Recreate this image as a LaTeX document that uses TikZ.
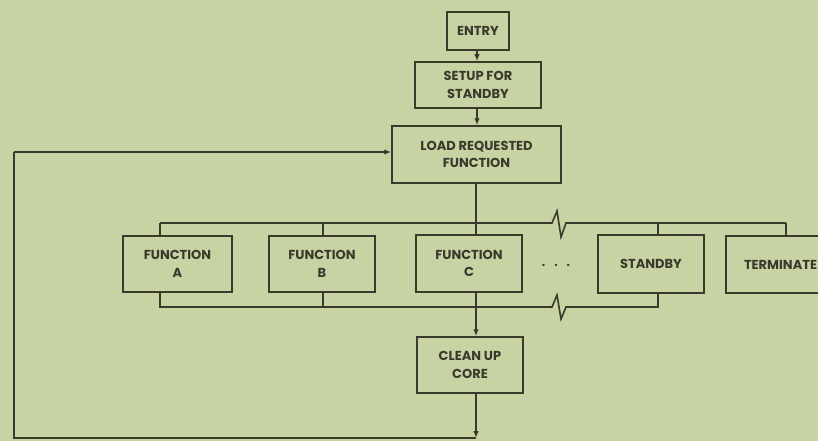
\documentclass[tikz,border=0pt]{standalone}
\usepackage{fontspec}
\setmainfont{Poppins}
\usetikzlibrary{arrows.meta}
\definecolor{bg}{HTML}{C8D3A4}
\definecolor{ink}{HTML}{3A3A2C}
\tikzset{
  box/.style={draw=ink, line width=1.5pt, inner sep=0pt, align=center, text=ink,
    font=\fontsize{13}{17.5}\selectfont\bfseries},
  link/.style={draw=ink, line width=1.6pt},
  arr/.style={link, -{Latex[length=7pt,width=5.5pt]}}
}
\begin{document}
\begin{tikzpicture}[x=1pt,y=-1pt]
\fill[bg] (0,0) rectangle (818,441);
\useasboundingbox (0,0) rectangle (818,441);
\clip (0,0) rectangle (818,441);
% boxes
\node[box, minimum width=62pt, minimum height=38pt] (entry) at (478,31) {ENTRY};
\node[box, minimum width=126pt, minimum height=46pt] (setup) at (478,85) {SETUP FOR\\STANDBY};
\node[box, minimum width=169pt, minimum height=57pt] (load) at (476.5,154.5) {LOAD REQUESTED\\FUNCTION};
\node[box, minimum width=109pt, minimum height=56pt] (fa) at (177.5,264) {FUNCTION\\A};
\node[box, minimum width=106pt, minimum height=56pt] (fb) at (322,264) {FUNCTION\\B};
\node[box, minimum width=106pt, minimum height=57pt] (fc) at (469,263.5) {FUNCTION\\C};
\node[box, minimum width=106pt, minimum height=58pt] (sb) at (651,264) {STANDBY};
\node[box, minimum width=106pt, minimum height=57pt, text width=70pt, align=left] (term) at (779,264.5) {TERMINATE};
\node[box, minimum width=106pt, minimum height=56pt] (clean) at (470,365) {CLEAN UP\\CORE};
\node[text=ink, font=\fontsize{12}{12}\selectfont\bfseries] (dots) at (556,265) {.\hspace{9pt}.\hspace{9pt}.};
% bus coordinates
\coordinate (tA) at (160,223);
\coordinate (tB) at (323,223);
\coordinate (tC) at (476,223);
\coordinate (tS) at (658,223);
\coordinate (tT) at (786,223);
\coordinate (bA) at (160,307);
\coordinate (bB) at (323,307);
\coordinate (bC) at (476,307);
\coordinate (bS) at (658,307);
\coordinate (ret) at (476,438);
\coordinate (lb) at (14,438);
\coordinate (lt) at (14,152);
% main flow
\draw[arr] (entry.south -| 477,0) -- (setup.north -| 477,0);
\draw[arr] (setup.south -| 477,0) -- (load.north -| 477,0);
\draw[link] (load.south -| tC) -- (tC);
% top bus
\draw[link] (tA) -- (552,223) -- (557,211) -- (561,237) -- (566,223) -- (tT);
\draw[link] (tA) -- (fa.north -| tA);
\draw[link] (tB) -- (fb.north -| tB);
\draw[link] (tC) -- (fc.north -| tC);
\draw[link] (tS) -- (sb.north -| tS);
\draw[link] (tT) -- (term.north -| tT);
% bottom bus
\draw[link] (fa.south -| bA) -- (bA) -- (552,307) -- (557,295) -- (561,319) -- (566,307) -- (bS) -- (sb.south -| bS);
\draw[link] (fb.south -| bB) -- (bB);
\draw[arr] (fc.south -| bC) -- (clean.north -| bC);
\draw[arr] (clean.south -| ret) -- (ret);
% return path
\draw[link] (ret) -- (lb) -- (lt);
\draw[arr] (lt) -- (lt -| load.west);
\end{tikzpicture}
\end{document}
